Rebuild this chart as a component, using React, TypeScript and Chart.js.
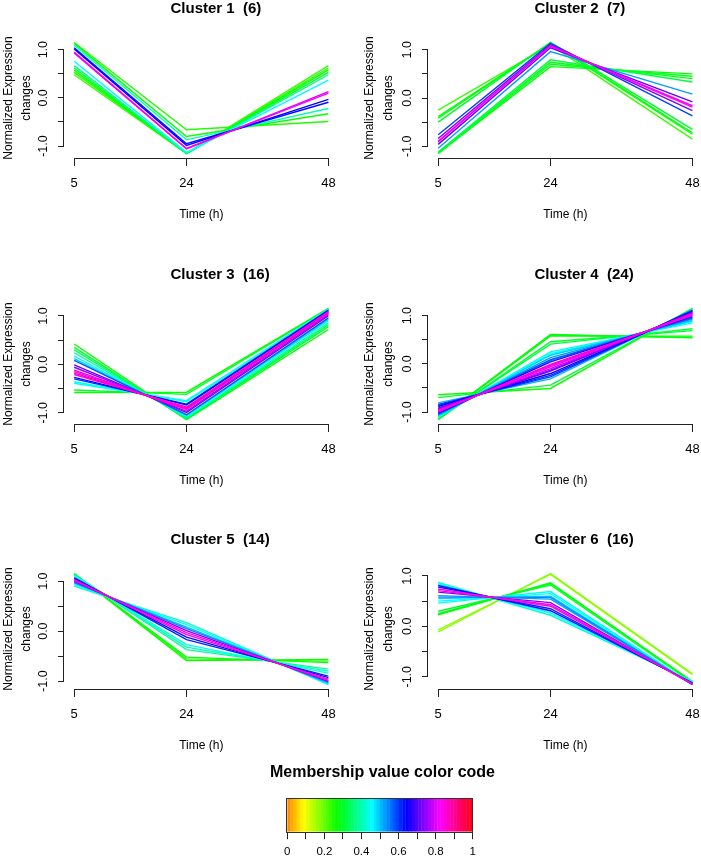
import React, { useEffect, useRef } from 'react';
import { Chart, registerables } from 'chart.js';

Chart.register(...registerables);

const FONT = '"Liberation Sans", Arial, Helvetica, sans-serif';
Chart.defaults.font.family = FONT;
Chart.defaults.color = '#000';

// ---------- shared axis data ----------
const timePoints = [5, 24, 48];
const xAxisTitle = 'Time (h)';
const yAxisTitle = ['Normalized Expression', 'changes'];
const yTickValues = [-1, -0.5, 0, 0.5, 1];
const yTickLabels = ['-1.0', '', '0.0', '', '1.0'];

// Mfuzz membership colour palette (low -> high membership)
const membershipPalette = [
  '#FF8F00', '#FFA700', '#FFBF00', '#FFD700', '#FFEF00', '#F7FF00', '#DFFF00', '#C7FF00',
  '#AFFF00', '#97FF00', '#80FF00', '#68FF00', '#50FF00', '#38FF00', '#20FF00', '#08FF00',
  '#00FF10', '#00FF28', '#00FF40', '#00FF58', '#00FF70', '#00FF87', '#00FF9F', '#00FFB7',
  '#00FFCF', '#00FFE7', '#00FFFF', '#00E7FF', '#00CFFF', '#00B7FF', '#009FFF', '#0087FF',
  '#0070FF', '#0058FF', '#0040FF', '#0028FF', '#0010FF', '#0800FF', '#2000FF', '#3800FF',
  '#5000FF', '#6800FF', '#8000FF', '#9700FF', '#AF00FF', '#C700FF', '#DF00FF', '#F700FF',
  '#FF00EF', '#FF00D7', '#FF00BF', '#FF00A7', '#FF008F', '#FF0078', '#FF0060', '#FF0048',
  '#FF0030', '#FF0018',
];

// ---------- cluster data: [t5, t24, t48] per gene, plus membership ----------
const cluster1Title = 'Cluster 1  (6)';
const cluster1Profiles = [
  [1.15, -0.66, -0.49], [1.13, -0.8, -0.33], [1.09, -0.87, -0.22], [1.04, -0.95, -0.09],
  [1.015, -0.985, -0.03], [0.95, -1.05, 0.1], [0.93, -1.06, 0.13], [0.76, -1.13, 0.37],
  [0.67, -1.15, 0.48], [0.62, -1.15, 0.53], [0.575, -1.155, 0.58], [0.53, -1.15, 0.62],
  [0.48, -1.15, 0.67],
];
const cluster1Membership = [0.25, 0.27, 0.42, 0.64, 0.66, 0.84, 0.82, 0.46, 0.38, 0.3, 0.28, 0.26, 0.24];

const cluster2Title = 'Cluster 2  (7)';
const cluster2Profiles = [
  [-1.15, 0.65, 0.5], [-1.15, 0.7, 0.45], [-1.14, 0.74, 0.4], [-1.12, 0.79, 0.33],
  [-1.04, 0.96, 0.08], [-0.96, 1.04, -0.08], [-0.91, 1.07, -0.16], [-0.89, 1.08, -0.19],
  [-0.84, 1.1, -0.26], [-0.76, 1.13, -0.37], [-0.5, 1.15, -0.65], [-0.42, 1.14, -0.72],
  [-0.385, 1.135, -0.75], [-0.25, 1.1, -0.85],
];
const cluster2Membership = [0.28, 0.3, 0.27, 0.32, 0.53, 0.72, 0.83, 0.85, 0.75, 0.6, 0.3, 0.27, 0.29, 0.24];

const cluster3Title = 'Cluster 3  (16)';
const cluster3Profiles = [
  [0.42, -1.14, 0.72], [0.35, -1.13, 0.78], [0.3, -1.12, 0.82], [0.24, -1.1, 0.86],
  [0.17, -1.07, 0.9], [0.12, -1.05, 0.93], [0.08, -1.04, 0.96], [-0.01, -0.995, 1.005],
  [-0.06, -0.97, 1.03], [-0.12, -0.93, 1.05], [-0.15, -0.92, 1.07], [-0.18, -0.9, 1.08],
  [-0.21, -0.88, 1.09], [-0.27, -0.84, 1.11], [-0.3, -0.82, 1.12], [-0.36, -0.77, 1.13],
  [-0.39, -0.75, 1.14], [-0.53, -0.62, 1.15], [-0.58, -0.575, 1.155],
];
const cluster3Membership = [
  0.28, 0.3, 0.34, 0.4, 0.45, 0.5, 0.58, 0.72, 0.76, 0.82, 0.86, 0.88, 0.85, 0.64, 0.62, 0.47, 0.44, 0.3, 0.28,
];

const cluster4Title = 'Cluster 4  (24)';
const cluster4Profiles = [
  [-1.15, 0.61, 0.54], [-1.15, 0.6, 0.55], [-1.155, 0.58, 0.575], [-1.15, 0.46, 0.69],
  [-1.14, 0.41, 0.73], [-1.1, 0.25, 0.85], [-1.09, 0.21, 0.88], [-1.08, 0.18, 0.9],
  [-1.06, 0.13, 0.93], [-1.04, 0.09, 0.95], [-1.035, 0.07, 0.965], [-1.02, 0.04, 0.98],
  [-0.995, -0.01, 1.005], [-0.985, -0.03, 1.015], [-0.97, -0.06, 1.03], [-0.95, -0.1, 1.05],
  [-0.93, -0.13, 1.06], [-0.92, -0.15, 1.07], [-0.885, -0.2, 1.085], [-0.86, -0.24, 1.1],
  [-0.84, -0.27, 1.11], [-0.81, -0.31, 1.12], [-0.7, -0.44, 1.14], [-0.64, -0.51, 1.15],
];
const cluster4Membership = [
  0.28, 0.29, 0.27, 0.3, 0.32, 0.45, 0.47, 0.5, 0.53, 0.58, 0.56, 0.7, 0.82, 0.87, 0.85, 0.8,
  0.75, 0.72, 0.65, 0.62, 0.6, 0.52, 0.3, 0.28,
];

const cluster5Title = 'Cluster 5  (14)';
const cluster5Profiles = [
  [0.9, 0.17, -1.07], [0.93, 0.13, -1.06], [0.96, 0.08, -1.04], [0.975, 0.05, -1.02],
  [0.995, 0.01, -1.005], [1.015, -0.03, -0.985], [1.03, -0.07, -0.96], [1.05, -0.12, -0.93],
  [1.07, -0.17, -0.9], [1.11, -0.27, -0.84], [1.12, -0.32, -0.8], [1.13, -0.37, -0.76],
  [1.15, -0.52, -0.63], [1.155, -0.555, -0.6], [1.155, -0.59, -0.565],
];
const cluster5Membership = [0.42, 0.46, 0.52, 0.55, 0.74, 0.84, 0.86, 0.64, 0.62, 0.44, 0.42, 0.4, 0.27, 0.26, 0.28];

const cluster6Title = 'Cluster 6  (16)';
const cluster6Profiles = [
  [0.87, 0.22, -1.09], [0.84, 0.27, -1.11], [0.81, 0.31, -1.12], [0.78, 0.35, -1.13],
  [0.74, 0.4, -1.14], [0.71, 0.43, -1.14], [0.68, 0.47, -1.15], [0.61, 0.54, -1.15],
  [0.58, 0.575, -1.155], [0.55, 0.6, -1.155], [0.5, 0.65, -1.15], [0.46, 0.69, -1.15],
  [0.3, 0.82, -1.12], [0.25, 0.85, -1.1], [0.23, 0.865, -1.095], [-0.07, 1.03, -0.96],
  [-0.11, 1.05, -0.94],
];
const cluster6Membership = [
  0.43, 0.46, 0.64, 0.62, 0.84, 0.86, 0.74, 0.53, 0.55, 0.5, 0.47, 0.45, 0.3, 0.28, 0.29, 0.17, 0.18,
];

// ---------- colour bar ----------
const colorBarTitle = 'Membership value color code';
const colorBarTickValues = [0, 0.1, 0.2, 0.3, 0.4, 0.5, 0.6, 0.7, 0.8, 0.9, 1];
const colorBarTickLabels = ['0', '', '0.2', '', '0.4', '', '0.6', '', '0.8', '', '1'];

const memColor = (m: number) => {
  const n = membershipPalette.length - 1;
  return membershipPalette[Math.max(0, Math.min(n - 1, Math.floor(m * n)))];
};

const panelDecor = {
  id: 'panelDecor',
  afterDraw(chart: any, _args: any, opts: any) {
    const { ctx, chartArea, scales } = chart;
    const xs = scales.x;
    const ys = scales.y;
    ctx.save();
    ctx.strokeStyle = '#222';
    ctx.lineWidth = 1;
    ctx.beginPath();
    const yb = Math.round(chartArea.bottom) + 0.5;
    ctx.moveTo(xs.getPixelForValue(timePoints[0]), yb);
    ctx.lineTo(xs.getPixelForValue(timePoints[timePoints.length - 1]), yb);
    const xl = Math.round(chartArea.left) - 0.5;
    ctx.moveTo(xl, ys.getPixelForValue(yTickValues[0]));
    ctx.lineTo(xl, ys.getPixelForValue(yTickValues[yTickValues.length - 1]));
    ctx.stroke();
    ctx.fillStyle = '#000';
    ctx.font = `bold 15px ${FONT}`;
    ctx.textAlign = 'left';
    ctx.textBaseline = 'middle';
    ctx.fillText(opts.title, chartArea.left + 106.5, chartArea.top - 29.5);
    ctx.restore();
  },
};

const colorBarDecor = {
  id: 'colorBarDecor',
  afterDraw(chart: any, _args: any, opts: any) {
    const { ctx, chartArea } = chart;
    ctx.save();
    ctx.strokeStyle = '#333';
    ctx.lineWidth = 1;
    ctx.strokeRect(
      Math.round(chartArea.left) - 0.5,
      Math.round(chartArea.top) - 0.5,
      Math.round(chartArea.right - chartArea.left) + 1,
      Math.round(chartArea.bottom - chartArea.top) + 1
    );
    ctx.fillStyle = '#000';
    ctx.font = `bold 16px ${FONT}`;
    ctx.textAlign = 'center';
    ctx.textBaseline = 'middle';
    ctx.fillText(opts.title, (chartArea.left + chartArea.right) / 2 + 2.5, chartArea.top - 26.3);
    ctx.restore();
  },
};

type PanelProps = {
  title: string;
  profiles: number[][];
  membership: number[];
  left: number;
  top: number;
  yTitleShift: number;
};

const PANEL_W = 350;
const PANEL_H = 226;

function ClusterPanel({ title, profiles, membership, left, top, yTitleShift }: PanelProps) {
  const ref = useRef<HTMLCanvasElement>(null);
  useEffect(() => {
    if (!ref.current) return;
    const all = profiles.flat();
    const lo = Math.min(...all);
    const hi = Math.max(...all);
    const yPad = (hi - lo) * 0.04;
    const t0 = timePoints[0];
    const t1 = timePoints[timePoints.length - 1];
    const xPad = (t1 - t0) * 0.04;
    const datasets = profiles.map((p, i) => ({
      data: p.map((v, j) => ({ x: timePoints[j], y: v })),
      borderColor: memColor(membership[i]),
      backgroundColor: memColor(membership[i]),
      borderWidth: 1.4,
      pointRadius: 0,
      tension: 0,
      fill: false,
      order: 1 - membership[i],
    }));
    const chart = new Chart(ref.current, {
      type: 'line',
      data: { datasets },
      options: {
        animation: false,
        responsive: false,
        events: [],
        layout: { padding: { left: 0, right: 11.4, top: 40, bottom: 0 } },
        plugins: {
          legend: { display: false },
          tooltip: { enabled: false },
          title: { display: false },
          panelDecor: { title },
        } as any,
        scales: {
          x: {
            type: 'linear',
            min: t0 - xPad,
            max: t1 + xPad,
            afterBuildTicks: (s: any) => {
              s.ticks = timePoints.map((v) => ({ value: v }));
            },
            afterFit: (s: any) => {
              s.height = 66;
            },
            grid: { drawOnChartArea: false, drawTicks: true, tickLength: 8, color: '#222', lineWidth: 1 },
            border: { display: false },
            ticks: {
              autoSkip: false,
              minRotation: 0,
              maxRotation: 0,
              padding: 9.5,
              color: '#000',
              font: { family: FONT, size: 13 },
              callback: (_v: any, i: number) => String(timePoints[i]),
            },
            title: {
              display: true,
              text: xAxisTitle,
              color: '#000',
              font: { family: FONT, size: 12 },
              padding: { top: 0, bottom: 2 },
            },
          },
          y: {
            type: 'linear',
            min: lo - yPad,
            max: hi + yPad,
            afterBuildTicks: (s: any) => {
              s.ticks = yTickValues.map((v) => ({ value: v }));
            },
            afterFit: (s: any) => {
              s.width = 64;
            },
            grid: { drawOnChartArea: false, drawTicks: true, tickLength: 6, color: '#222', lineWidth: 1 },
            border: { display: false },
            ticks: {
              autoSkip: false,
              minRotation: 90,
              maxRotation: 90,
              crossAlign: 'center',
              padding: 4,
              color: '#000',
              font: { family: FONT, size: 12.5 },
              callback: (_v: any, i: number) => yTickLabels[i],
            },
            title: {
              display: true,
              text: yAxisTitle,
              color: '#000',
              font: { family: FONT, size: 12, lineHeight: 1.53 },
              padding: { top: yTitleShift, bottom: 0 },
            },
          },
        },
      } as any,
      plugins: [panelDecor],
    });
    return () => chart.destroy();
  }, []);
  return (
    <canvas
      ref={ref}
      width={PANEL_W}
      height={PANEL_H}
      style={{ position: 'absolute', left, top, width: PANEL_W, height: PANEL_H, display: 'block' }}
    />
  );
}

function ColorBar() {
  const ref = useRef<HTMLCanvasElement>(null);
  useEffect(() => {
    if (!ref.current) return;
    const n = membershipPalette.length;
    const chart = new Chart(ref.current, {
      type: 'bar',
      data: {
        datasets: [
          {
            data: membershipPalette.map((_, i) => ({ x: (i + 0.5) / n, y: 1 })),
            backgroundColor: membershipPalette,
            borderWidth: 0,
            barPercentage: 1.12,
            categoryPercentage: 1,
          },
        ],
      },
      options: {
        animation: false,
        responsive: false,
        events: [],
        layout: { padding: { left: 97.3, right: 102.3, top: 49, bottom: 0 } },
        plugins: {
          legend: { display: false },
          tooltip: { enabled: false },
          title: { display: false },
          colorBarDecor: { title: colorBarTitle },
        } as any,
        scales: {
          x: {
            type: 'linear',
            min: 0,
            max: 1,
            offset: false,
            afterBuildTicks: (s: any) => {
              s.ticks = colorBarTickValues.map((v) => ({ value: v }));
            },
            afterFit: (s: any) => {
              s.height = 27.3;
            },
            grid: { offset: false, drawOnChartArea: false, drawTicks: true, tickLength: 7.5, color: '#222', lineWidth: 1 },
            border: { display: false },
            ticks: {
              autoSkip: false,
              minRotation: 0,
              maxRotation: 0,
              padding: 5.5,
              color: '#000',
              font: { family: FONT, size: 11.5 },
              callback: (_v: any, i: number) => colorBarTickLabels[i],
            },
          },
          y: { display: false, min: 0, max: 1 },
        },
      } as any,
      plugins: [colorBarDecor],
    });
    return () => chart.destroy();
  }, []);
  return (
    <canvas
      ref={ref}
      width={385}
      height={109}
      style={{ position: 'absolute', left: 190, top: 750, width: 385, height: 109, display: 'block' }}
    />
  );
}

const colLefts = [0, 364];
const rowTops = [-2, 264, 529];
const yTitleShifts = [-0.9, -3.2];

export default function App() {
  const panels = [
    { title: cluster1Title, profiles: cluster1Profiles, membership: cluster1Membership },
    { title: cluster2Title, profiles: cluster2Profiles, membership: cluster2Membership },
    { title: cluster3Title, profiles: cluster3Profiles, membership: cluster3Membership },
    { title: cluster4Title, profiles: cluster4Profiles, membership: cluster4Membership },
    { title: cluster5Title, profiles: cluster5Profiles, membership: cluster5Membership },
    { title: cluster6Title, profiles: cluster6Profiles, membership: cluster6Membership },
  ];
  return (
    <div
      style={{
        position: 'absolute',
        left: 0,
        top: 0,
        width: 701,
        height: 859,
        overflow: 'hidden',
        background: '#fff',
      }}
    >
      {panels.map((p, i) => (
        <ClusterPanel
          key={i}
          title={p.title}
          profiles={p.profiles}
          membership={p.membership}
          left={colLefts[i % 2]}
          top={rowTops[Math.floor(i / 2)]}
          yTitleShift={yTitleShifts[i % 2]}
        />
      ))}
      <ColorBar />
    </div>
  );
}
